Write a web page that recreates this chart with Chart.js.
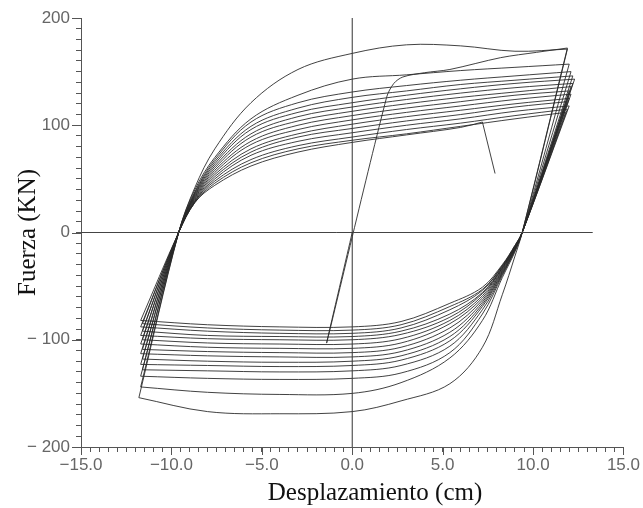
<!DOCTYPE html>
<html>
<head>
<meta charset="utf-8">
<script src="https://cdn.jsdelivr.net/npm/chart.js@4.4.1/dist/chart.umd.min.js"></script>
<style>
  body { margin: 0; background: #fff; }
</style>
</head>
<body>
<canvas id="hysteresis" width="643" height="508"></canvas>
<script>
// first excursion: small push to the negative side, then up to +12 cm
const initialLoading = [[0, 0], [-1.4, -102], [1.9, 126], [2.3, 139], [2.8, 145], [4.0, 149], [5.4, 152], [8.2, 163], [10.2, 168], [11.9, 172]];

// reloading branches (negative side -> positive peak), sampled at upperX
const upperX = [-9.6, -8.7, -7.6, -5.6, -3.0, 0, 3, 6, 9];
const upperY = [
  [0, 42, 78, 121, 152, 167, 175, 174, 169],
  [0, 40, 70, 106, 128, 143, 147, 151, 154],
  [0, 38, 68, 103, 121, 131, 137, 142, 146],
  [0, 37, 66, 99, 116, 126, 132, 138, 142],
  [0, 36, 64, 96, 112, 121, 128, 134, 139],
  [0, 35, 62, 92, 108, 117, 124, 130, 135],
  [0, 34, 60, 89, 104, 113, 120, 126, 131],
  [0, 33, 58, 85, 100, 109, 116, 122, 128],
  [0, 32, 56, 82, 96, 105, 112, 118, 124],
  [0, 31, 54, 78, 92, 101, 108, 114, 120],
  [0, 30, 52, 75, 89, 97, 104, 110, 117],
  [0, 29, 50, 72, 85, 93, 100, 106, 113],
  [0, 29, 48, 68, 81, 89, 96, 102, 109],
  [0, 28, 46, 65, 78, 86, 92, 99, 106],
  [0, 28, 44, 62, 75, 84, 91, 98]
];
const upperEnd = [[11.9, 171], [12.0, 157], [12.1, 150], [12.2, 146], [12.3, 143], [12.2, 139], [12.1, 136], [12.0, 132],
  [12.1, 129], [12.0, 125], [11.9, 122], [12.0, 118], [11.9, 115], [11.8, 112], [7.2, 103]];

// unloading branches (positive peak -> negative side), sampled at lowerX
const lowerX = [9.4, 9.0, 8.3, 7.2, 5.4, 2.7, 0, -4, -8];
const lowerY = [
  [0, -22, -58, -107, -141, -157, -167, -169, -167],
  [0, -18, -42, -82, -117, -140, -150, -151, -149],
  [0, -17, -40, -76, -112, -131, -136, -137, -136],
  [0, -16, -39, -72, -106, -124, -129, -130, -129],
  [0, -16, -38, -69, -101, -119, -124, -125, -124],
  [0, -15, -37, -67, -97, -115, -120, -121, -120],
  [0, -15, -36, -65, -93, -111, -116, -116, -115],
  [0, -14, -35, -63, -89, -107, -112, -112, -111],
  [0, -14, -34, -61, -85, -103, -108, -108, -107],
  [0, -14, -33, -59, -82, -99, -104, -104, -103],
  [0, -13, -33, -57, -79, -95, -100, -100, -99],
  [0, -13, -32, -56, -76, -92, -97, -97, -96],
  [0, -13, -31, -54, -72, -89, -94, -94, -92],
  [0, -12, -31, -53, -69, -86, -91, -91, -89],
  [0, -12, -30, -51, -66, -83, -88, -88, -86]
];
const lowerEnd = [[-11.8, -154], [-11.7, -144], [-11.7, -134], [-11.6, -128], [-11.7, -123], [-11.6, -118], [-11.7, -113],
  [-11.6, -109], [-11.7, -104], [-11.6, -100], [-11.7, -96], [-11.6, -92], [-11.7, -88], [-11.6, -85], [-11.7, -82]];

// last partial cycle stops and drops
const finalDrop = [7.9, 55];

const xMajor = [-15, -10, -5, 0, 5, 10, 15];
const xLabels = ['\u221215.0', '\u221210.0', '\u22125.0', '0.0', '5.0', '10.0', '15.0'];
const yMajor = [-200, -100, 0, 100, 200];
const yLabels = ['\u2212 200', '\u2212 100', '0', '100', '200'];

const pt = p => ({x: p[0], y: p[1]});
const sampled = (xs, ys) => ys.map((y, k) => ({x: xs[k], y: y}));

function curve(points, tension) {
  return {
    data: points,
    showLine: true,
    borderColor: 'rgba(40,40,40,0.88)',
    borderWidth: 1,
    pointRadius: 0,
    tension: tension,
    fill: false
  };
}

const datasets = [];
// axes through the origin
datasets.push(Object.assign(curve([{x: 0, y: -200}, {x: 0, y: 200}], 0), {borderColor: '#333'}));
datasets.push(Object.assign(curve([{x: -15, y: 0}, {x: 13.3, y: 0}], 0), {borderColor: '#444'}));

datasets.push(curve(initialLoading.map(pt), 0.3));
let peak = initialLoading[initialLoading.length - 1];
for (let i = 0; i < lowerY.length; i++) {
  datasets.push(curve([pt(peak), ...sampled(lowerX, lowerY[i]), pt(lowerEnd[i])], 0.35));
  datasets.push(curve([pt(lowerEnd[i]), ...sampled(upperX, upperY[i]), pt(upperEnd[i])], 0.35));
  peak = upperEnd[i];
}
datasets.push(curve([pt(peak), pt(finalDrop)], 0));

// longer marks at the labelled ticks, plus the horizontal axis title
const majorTicks = {
  id: 'majorTicks',
  afterDraw(chart) {
    const {ctx, scales: {x, y}} = chart;
    ctx.save();
    ctx.strokeStyle = '#555';
    ctx.lineWidth = 1;
    ctx.beginPath();
    xMajor.forEach(v => {
      const px = Math.round(x.getPixelForValue(v)) + 0.5;
      ctx.moveTo(px, y.bottom);
      ctx.lineTo(px, y.bottom + 8);
    });
    yMajor.forEach(v => {
      const py = Math.round(y.getPixelForValue(v)) + 0.5;
      ctx.moveTo(x.left - 9, py);
      ctx.lineTo(x.left, py);
    });
    ctx.stroke();
    ctx.fillStyle = '#111';
    ctx.font = '25px "Liberation Serif", "Times New Roman", serif';
    ctx.textAlign = 'center';
    ctx.textBaseline = 'middle';
    ctx.fillText('Desplazamiento (cm)', 375, 493);
    ctx.restore();
  }
};

const tickFont = {family: '"Liberation Sans", Arial, sans-serif', size: 17};

const config = {
  type: 'scatter',
  data: {datasets: datasets},
  options: {
    responsive: false,
    animation: false,
    layout: {padding: {top: 18, right: 19, left: 0, bottom: 0}},
    plugins: {legend: {display: false}, tooltip: {enabled: false}},
    scales: {
      x: {
        type: 'linear',
        min: -15,
        max: 15,
        afterFit: s => { s.height = 61; },
        border: {display: true, color: '#555', width: 1},
        grid: {drawOnChartArea: false, drawTicks: true, tickLength: 5, color: '#555'},
        ticks: {
          stepSize: 0.5,
          autoSkip: false,
          maxRotation: 0,
          maxTicksLimit: 100,
          padding: 3,
          color: '#666',
          font: tickFont,
          callback: v => {
            const k = xMajor.indexOf(v);
            return k >= 0 ? xLabels[k] : '';
          }
        }
      },
      y: {
        type: 'linear',
        min: -200,
        max: 200,
        afterFit: s => { s.width = 81; },
        border: {display: true, color: '#555', width: 1},
        grid: {drawOnChartArea: false, drawTicks: true, tickLength: 5, color: '#555'},
        ticks: {
          stepSize: 10,
          autoSkip: false,
          maxTicksLimit: 100,
          padding: 6,
          color: '#666',
          font: tickFont,
          callback: v => {
            const k = yMajor.indexOf(v);
            return k >= 0 ? yLabels[k] : '';
          }
        },
        title: {
          display: true,
          text: 'Fuerza (KN)',
          color: '#111',
          font: {family: '"Liberation Serif", "Times New Roman", serif', size: 25},
          padding: {top: 13, bottom: 0}
        }
      }
    }
  },
  plugins: [majorTicks]
};

const ctx = document.getElementById('hysteresis').getContext('2d');
const hysteresisChart = new Chart(ctx, config);
</script>
</body>
</html>
